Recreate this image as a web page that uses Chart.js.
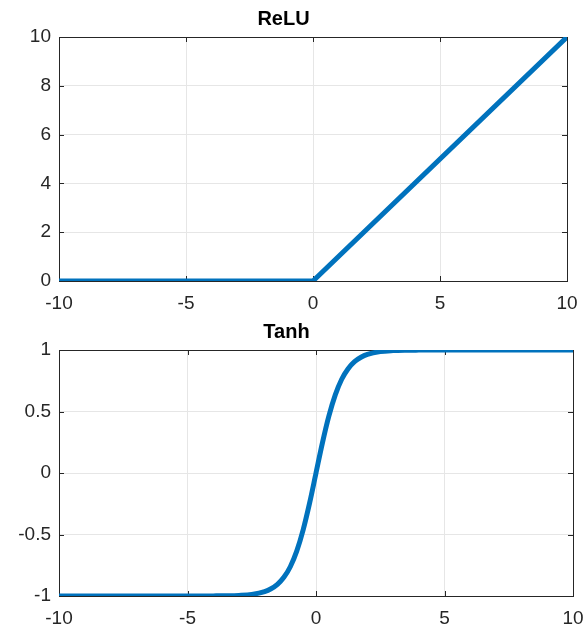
<!DOCTYPE html>
<html>
<head>
<meta charset="utf-8">
<script src="https://cdn.jsdelivr.net/npm/chart.js@4/dist/chart.umd.min.js"></script>
<style>
  html, body { margin: 0; padding: 0; background: #ffffff; overflow: hidden; }
  #c1 { position: absolute; left: 0; top: 0; }
  #c2 { position: absolute; left: 0; top: 312px; }
</style>
</head>
<body>
<canvas id="c1" width="587" height="312"></canvas>
<canvas id="c2" width="587" height="312"></canvas>
<script>
// ---- Data ----
const xTickValues = [-10, -5, 0, 5, 10];

const reluTitle = 'ReLU';
const reluX = [-10, 0, 10];
const reluY = [0, 0, 10];

const tanhTitle = 'Tanh';
const tanhX = [-10, -8, -6, -5, -4, -3.5, -3, -2.5, -2, -1.75, -1.5, -1.25, -1, -0.75, -0.5, -0.25, 0,
               0.25, 0.5, 0.75, 1, 1.25, 1.5, 1.75, 2, 2.5, 3, 3.5, 4, 5, 6, 8, 10];
const tanhY = [-1, -1, -1, -1, -0.999, -0.998, -0.995, -0.987, -0.964, -0.941, -0.905, -0.848, -0.762, -0.635, -0.462, -0.245, 0,
               0.245, 0.462, 0.635, 0.762, 0.848, 0.905, 0.941, 0.964, 0.987, 0.995, 0.998, 0.999, 1, 1, 1, 1];

// ---- Styling ----
const FONT = "'Liberation Sans', Arial, Helvetica, sans-serif";
const LINE_COLOR = '#0072BD';
const AXIS_COLOR = '#262626';
const GRID_COLOR = '#e6e6e6';

const boxPlugin = {
  id: 'matlabBox',
  beforeDatasetsDraw(chart) {
    const { ctx, chartArea: a, scales } = chart;
    ctx.save();
    ctx.strokeStyle = AXIS_COLOR;
    ctx.lineWidth = 1;
    const tl = 5;
    ctx.beginPath();
    scales.x.ticks.forEach(t => {
      const px = Math.round(scales.x.getPixelForValue(t.value)) + 0.5;
      ctx.moveTo(px, a.bottom); ctx.lineTo(px, a.bottom - tl);
      ctx.moveTo(px, a.top); ctx.lineTo(px, a.top + tl);
    });
    scales.y.ticks.forEach(t => {
      const py = Math.round(scales.y.getPixelForValue(t.value)) + 0.5;
      ctx.moveTo(a.left, py); ctx.lineTo(a.left + tl, py);
      ctx.moveTo(a.right, py); ctx.lineTo(a.right - tl, py);
    });
    ctx.stroke();
    ctx.strokeRect(Math.round(a.left) + 0.5, Math.round(a.top) + 0.5,
                   Math.round(a.right - a.left), Math.round(a.bottom - a.top));
    ctx.restore();
  }
};

function makeChart(id, title, xs, ys, yMin, yMax, yStep, rightPad, titleTop, xAxisH, monotone) {
  const pts = xs.map((x, i) => ({ x: x, y: ys[i] }));
  return new Chart(document.getElementById(id), {
    type: 'line',
    data: {
      datasets: [{
        data: pts,
        borderColor: LINE_COLOR,
        borderWidth: 5,
        pointRadius: 0,
        fill: false,
        tension: 0,
        cubicInterpolationMode: monotone ? 'monotone' : 'default',
        borderCapStyle: 'butt',
        borderJoinStyle: 'round'
      }]
    },
    options: {
      responsive: false,
      devicePixelRatio: 1,
      animation: false,
      layout: { padding: { left: 0, right: rightPad, top: 0, bottom: 0 } },
      plugins: {
        legend: { display: false },
        tooltip: { enabled: false },
        title: {
          display: true,
          text: title,
          color: '#000000',
          font: { family: FONT, size: 20, weight: 'bold', lineHeight: 1.2 },
          padding: { top: titleTop, bottom: 6 }
        }
      },
      scales: {
        x: {
          type: 'linear',
          min: -10, max: 10,
          afterBuildTicks(scale) { scale.ticks = xTickValues.map(v => ({ value: v })); },
          afterFit(scale) {
            scale.height = xAxisH;
            scale.paddingLeft = 0;
            scale.paddingRight = 0;
          },
          ticks: {
            color: AXIS_COLOR,
            font: { family: FONT, size: 19 },
            padding: 11,
            maxRotation: 0,
            callback: v => String(v)
          },
          grid: { color: GRID_COLOR, drawTicks: false, lineWidth: 1 },
          border: { display: true, color: AXIS_COLOR, width: 1 }
        },
        y: {
          type: 'linear',
          min: yMin, max: yMax,
          ticks: {
            stepSize: yStep,
            color: AXIS_COLOR,
            font: { family: FONT, size: 19 },
            padding: 8,
            callback: v => String(v)
          },
          afterFit(scale) { scale.width = 59; },
          grid: { color: GRID_COLOR, drawTicks: false, lineWidth: 1 },
          border: { display: true, color: AXIS_COLOR, width: 1 }
        }
      }
    },
    plugins: [boxPlugin]
  });
}

makeChart('c1', reluTitle, reluX, reluY, 0, 10, 2, 20, 7, 31, false);
makeChart('c2', tanhTitle, tanhX, tanhY, -1, 1, 0.5, 14, 8, 28, true);
</script>
</body>
</html>
